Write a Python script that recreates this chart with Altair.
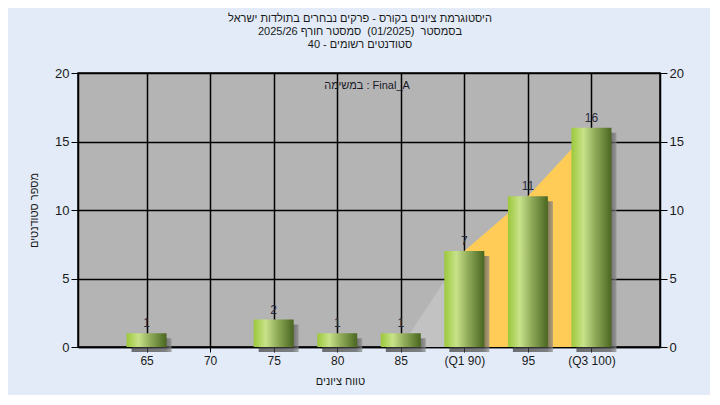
import altair as alt
import pandas as pd

# ---- data ----
categories = ["65", "70", "75", "80", "85", "(Q1 90)", "95", "(Q3 100)"]
counts = [1, 0, 2, 1, 1, 7, 11, 16]

# shaded areas (category index, value)
gray_area_pos = [5, 6]
gray_area_val = [0, 7]
orange_area_pos = [6, 7, 8]
orange_area_val = [7, 11, 16]

title_lines = [
    "היסטוגרמת ציונים בקורס - פרקים נבחרים בתולדות ישראל",
    "בסמסטר\u00a0 (01/2025)\u00a0 סמסטר חורף 2025/26",
    "סטודנטים רשומים - 40",
]
note_text = "במשימה : Final_A"
x_title = "טווח ציונים"
y_title = "מספר סטודנטים"

W, H = 582, 274
FONT = "Liberation Sans"

bars_df = pd.DataFrame({
    "pos": list(range(1, len(categories) + 1)),
    "cat": categories,
    "count": counts,
})
bars_nonzero = bars_df[bars_df["count"] > 0]
gray_df = pd.DataFrame({"pos": gray_area_pos, "val": gray_area_val})
orange_df = pd.DataFrame({"pos": orange_area_pos, "val": orange_area_val})

label_expr = "[" + ",".join("'" + c + "'" for c in categories) + "][datum.value - 1]"

# isolate each title line so that bidi reordering stays inside its own line
title_text = ["\u2066" + t + "\u2069" for t in title_lines]

xscale = alt.Scale(domain=[0, len(categories) + 1], nice=False, zero=False)
yscale = alt.Scale(domain=[0, 20], nice=False)

x_axis = alt.Axis(
    values=list(range(1, len(categories) + 1)),
    labelExpr=label_expr,
    title=x_title,
    grid=True, gridColor="#000000", gridWidth=1.5,
    domainColor="#000000", domainWidth=1.5,
    tickColor="#000000", tickSize=5,
    labelFont=FONT, labelFontSize=12, labelColor="#1a1a1a", labelPadding=3,
    titleFont=FONT, titleFontSize=11, titleFontWeight="normal", titleColor="#1a1a1a",
    titleX=262, titleY=28, titleBaseline="top",
)
y_axis_left = alt.Axis(
    values=[0, 5, 10, 15, 20],
    title=y_title,
    grid=True, gridColor="#000000", gridWidth=1.5,
    domainColor="#000000", domainWidth=1.5,
    tickColor="#000000", tickSize=7,
    labelFont=FONT, labelFontSize=13, labelColor="#1a1a1a", labelPadding=2,
    titleFont=FONT, titleFontSize=11, titleFontWeight="normal", titleColor="#1a1a1a",
    titleAngle=270, titleX=-44, titleY=H / 2, titleAlign="center", titleBaseline="middle",
)
y_axis_right = alt.Axis(
    values=[0, 5, 10, 15, 20], orient="right", title=None, grid=False,
    domainColor="#000000", domainWidth=1.5,
    tickColor="#000000", tickSize=7,
    labelFont=FONT, labelFontSize=13, labelColor="#1a1a1a", labelPadding=2,
)

gray_area = alt.Chart(gray_df).mark_area(color="#c2c2c2").encode(
    x=alt.X("pos:Q", scale=xscale, axis=x_axis),
    y=alt.Y("val:Q", scale=yscale, axis=y_axis_left),
)
orange_area = alt.Chart(orange_df).mark_area(color="#ffcc58").encode(
    x=alt.X("pos:Q", scale=xscale),
    y=alt.Y("val:Q", scale=yscale),
)

shadow = alt.Chart(bars_nonzero).mark_bar(
    size=40, xOffset=5, yOffset=5,
    color=alt.Gradient(
        gradient="linear", x1=0, x2=1, y1=0, y2=0,
        stops=[alt.GradientStop(offset=0, color="#3a3a3a"),
               alt.GradientStop(offset=0.85, color="#505050"),
               alt.GradientStop(offset=1, color="#8a8a8a")],
    ),
    opacity=0.7,
).encode(
    x=alt.X("pos:Q", scale=xscale),
    y=alt.Y("count:Q", scale=yscale),
)

bars = alt.Chart(bars_nonzero).mark_bar(
    size=40,
    color=alt.Gradient(
        gradient="linear", x1=0, x2=1, y1=0, y2=0,
        stops=[alt.GradientStop(offset=0, color="#9cc83a"),
               alt.GradientStop(offset=0.3, color="#c8e28a"),
               alt.GradientStop(offset=0.6, color="#8eaa58"),
               alt.GradientStop(offset=1, color="#4a6620")],
    ),
).encode(
    x=alt.X("pos:Q", scale=xscale),
    y=alt.Y("count:Q", scale=yscale),
)

labels = alt.Chart(bars_nonzero).mark_text(
    font=FONT, fontSize=12, color="#2a2a3a", baseline="alphabetic", dy=-6,
).encode(
    x=alt.X("pos:Q", scale=xscale),
    y=alt.Y("count:Q", scale=yscale),
    text="count:Q",
)

note = alt.Chart(pd.DataFrame({"t": [note_text]})).mark_text(
    font=FONT, fontSize=11, color="#1a1a2a", baseline="middle",
).encode(
    x=alt.value(W / 2 - 2), y=alt.value(13), text="t:N",
)

right_axis = alt.Chart(bars_df).mark_point(opacity=0).encode(
    x=alt.X("pos:Q", scale=xscale),
    y=alt.Y("count:Q", scale=yscale, axis=y_axis_right),
)

main = alt.layer(gray_area, orange_area, shadow, bars, labels, note)

chart = alt.layer(main, right_axis).resolve_scale(y="independent").properties(
    width=W, height=H,
    autosize=alt.AutoSizeParams(type="none"),
    padding={"left": 70, "top": 65, "right": 50, "bottom": 48},
    background="#e2ebf7",
    title=alt.TitleParams(
        text=title_text, font=FONT, fontSize=11, fontWeight="normal",
        color="#1a1a1a", lineHeight=13, anchor="middle", frame="group",
        dx=-9, offset=17,
    ),
).configure_view(
    fill="#b4b4b4", stroke="#000000", strokeWidth=1.5,
)

chart.save("out.html", embed_options={"renderer": "svg", "actions": False})
